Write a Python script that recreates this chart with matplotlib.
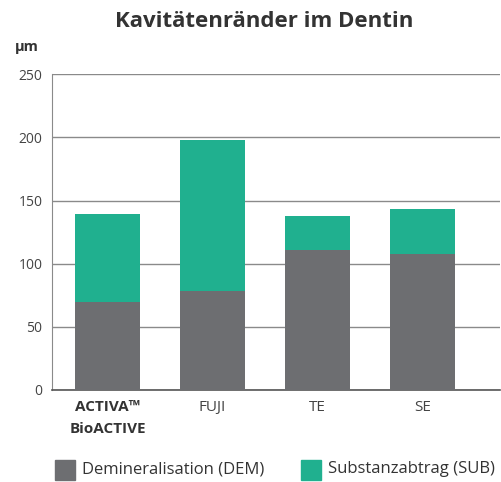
import matplotlib
matplotlib.use("Agg")
import matplotlib.pyplot as plt
from matplotlib.patches import Rectangle
import numpy as np

plt.rcParams['font.family'] = ['Open Sans', 'DejaVu Sans']

# data
categories = ['ACTIVA\u2122\nBioACTIVE', 'FUJI', 'TE', 'SE']
dem = [70, 78, 111, 108]
sub = [69, 120, 27, 35]
yticks = [0, 50, 100, 150, 200, 250]

gray = '#6d6e71'
green = '#20b08f'
text_col = '#333333'

fig = plt.figure(figsize=(5.02, 4.82), dpi=100)
ax = fig.add_axes([0.1036, 0.191, 0.8924, 0.655])

x = np.arange(len(categories))
w = 0.62
ax.bar(x, dem, width=w, color=gray, zorder=3)
ax.bar(x, sub, width=w, bottom=dem, color=green, zorder=3)

ax.set_ylim(0, 250)
ax.set_xlim(-0.53, 3.74)
ax.set_yticks(yticks)
ax.yaxis.grid(True, color='#8a8a8a', linewidth=1.0, zorder=0)
ax.set_axisbelow(True)
ax.tick_params(axis='y', length=0, labelsize=10, colors='#444444', pad=7)
ax.tick_params(axis='x', length=0, labelsize=11, colors='#444444', pad=7)
ax.set_xticks(x)
ax.set_xticklabels(categories)
first = ax.get_xticklabels()[0]
first.set_fontweight('bold')
first.set_color(text_col)
first.set_linespacing(1.8)

for s in ['top', 'right']:
    ax.spines[s].set_visible(False)
ax.spines['left'].set_color('#8a8a8a')
ax.spines['bottom'].set_color('#555555')
ax.spines['bottom'].set_linewidth(1.2)

fig.text(0.527, 0.955, 'Kavitätenränder im Dentin', ha='center', va='center',
         fontsize=16, fontweight='bold', color=text_col)
fig.text(0.03, 0.902, 'µm', ha='left', va='center', fontsize=10.5,
         fontweight='bold', color=text_col)

# legend at the bottom
for x0, col, label in [(55, gray, 'Demineralisation (DEM)'),
                       (301, green, 'Substanzabtrag (SUB)')]:
    fig.patches.append(Rectangle((x0 / 502, 1 - 480 / 482), 20 / 502, 20 / 482,
                                 transform=fig.transFigure, color=col))
    fig.text((x0 + 27) / 502, 1 - 469 / 482, label, ha='left', va='center',
             fontsize=12, color=text_col)

fig.savefig('out.png', dpi=100, facecolor='white')
